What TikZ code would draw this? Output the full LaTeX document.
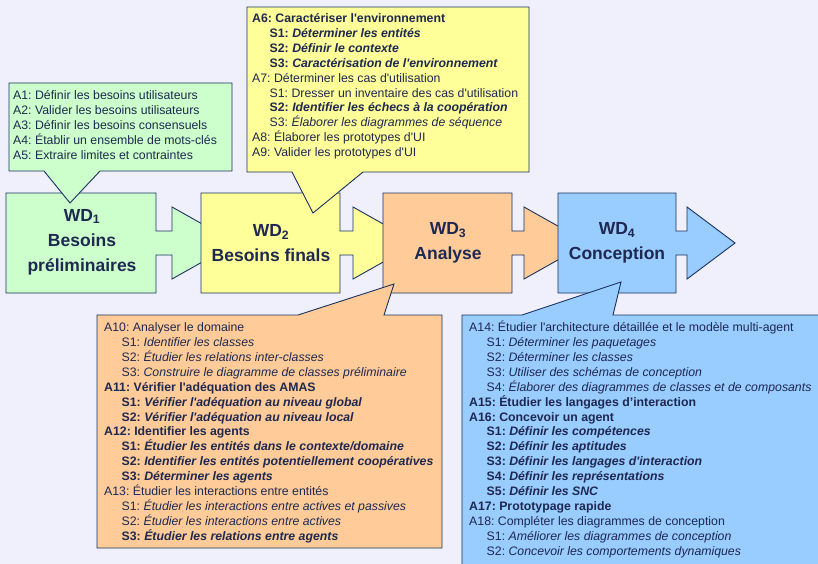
\documentclass[tikz,border=0pt]{standalone}
\usepackage{fontspec}
\setmainfont{Liberation Sans}[Ligatures=TeXOff]
\usepackage{tikz}
\usetikzlibrary{positioning, calc}
\definecolor{bgcol}{RGB}{240,240,252}
\definecolor{linecol}{RGB}{25,50,95}
\definecolor{txtcol}{RGB}{30,40,80}
\definecolor{wdgreen}{RGB}{204,255,204}
\definecolor{wdyellow}{RGB}{255,255,153}
\definecolor{wdorange}{RGB}{255,204,153}
\definecolor{wdblue}{RGB}{153,204,255}
\newcommand{\subind}{\hspace*{17.5pt}}
\newcommand{\firstln}{\rule{0pt}{12pt}}
\frenchspacing
\tikzset{>=latex}

\begin{document}
\begin{tikzpicture}[x=1pt,y=-1pt,line join=miter,
    wdshape/.style={draw=linecol,line width=0.9pt},
    wdlabel/.style={font=\fontsize{17.5}{25}\selectfont\bfseries,text=txtcol,align=center,inner sep=0},
    notetext/.style={font=\fontsize{12.3}{14.9}\selectfont,text=txtcol,align=left,anchor=north west,inner sep=0}]
    \useasboundingbox[fill=bgcol] (0,0) rectangle (818,564);

    % work definitions, arrow heads go under the next box
    \filldraw[wdshape,fill=wdgreen] (6,193) -- (156,193) -- (156,231) -- (172,231) -- (172,207) -- (236,243) -- (172,279) -- (172,255) -- (156,255) -- (156,293) -- (6,293) -- cycle;
    \filldraw[wdshape,fill=wdyellow] (201,193) -- (340,193) -- (340,231) -- (353,231) -- (353,207) -- (417,243) -- (353,279) -- (353,255) -- (340,255) -- (340,293) -- (201,293) -- cycle;
    \filldraw[wdshape,fill=wdorange] (383,193) -- (512,193) -- (512,231) -- (524,231) -- (524,207) -- (588,243) -- (524,279) -- (524,255) -- (512,255) -- (512,293) -- (383,293) -- cycle;
    \filldraw[wdshape,fill=wdblue] (558,193) -- (676,193) -- (676,231) -- (687,231) -- (687,207) -- (735,243) -- (687,279) -- (687,255) -- (676,255) -- (676,293) -- (558,293) -- cycle;
    \node[wdlabel] (wd1) at (82,242) {WD\textsubscript{1}\\Besoins\\préliminaires};
    \node[wdlabel] (wd2) at (271,243) {WD\textsubscript{2}\\Besoins finals};
    \node[wdlabel] (wd3) at (448,243) {WD\textsubscript{3}\\Analyse};
    \node[wdlabel] (wd4) at (617,243) {WD\textsubscript{4}\\Conception};

    % activity notes
    \filldraw[wdshape,fill=wdgreen] (9,83) -- (232,83) -- (232,171) -- (100,171) -- (70,203) -- (44,171) -- (9,171) -- cycle;
    \node[notetext] (acts1) at (13,87.4) {\firstln A1: Définir les besoins utilisateurs\\
        A2: Valider les besoins utilisateurs\\
        A3: Définir les besoins consensuels\\
        A4: Établir un ensemble de mots-clés\\
        A5: Extraire limites et contraintes};

    \filldraw[wdshape,fill=wdyellow] (247,7) -- (529,7) -- (529,172) -- (363,172) -- (313,213) -- (292,172) -- (247,172) -- cycle;
    \node[notetext] (acts2) at (252,10.4) {\firstln\textbf{A6: Caractériser l'environnement}\\
        \subind\textbf{S1: \textit{Déterminer les entités}}\\
        \subind\textbf{S2: \textit{Définir le contexte}}\\
        \subind\textbf{S3: \textit{Caractérisation de l'environnement}}\\
        A7: Déterminer les cas d'utilisation\\
        \subind S1: Dresser un inventaire des cas d'utilisation\\
        \subind\textbf{S2: \textit{Identifier les échecs à la coopération}}\\
        \subind S3: \textit{Élaborer les diagrammes de séquence}\\
        A8: Élaborer les prototypes d'UI\\
        A9: Valider les prototypes d'UI};

    \filldraw[wdshape,fill=wdorange] (97,315) -- (298,315) -- (394,284) -- (384,315) -- (442,315) -- (442,548) -- (97,548) -- cycle;
    \node[notetext] (acts3) at (104,319.4) {\firstln A10: Analyser le domaine\\
        \subind S1: \textit{Identifier les classes}\\
        \subind S2: \textit{Étudier les relations inter-classes}\\
        \subind S3: \textit{Construire le diagramme de classes préliminaire}\\
        \textbf{A11: Vérifier l'adéquation des AMAS}\\
        \subind\textbf{S1: \textit{Vérifier l'adéquation au niveau global}}\\
        \subind\textbf{S2: \textit{Vérifier l'adéquation au niveau local}}\\
        \textbf{A12: Identifier les agents}\\
        \subind\textbf{S1: \textit{Étudier les entités dans le contexte/domaine}}\\
        \subind\textbf{S2: \textit{Identifier les entités potentiellement coopératives}}\\
        \subind\textbf{S3: \textit{Déterminer les agents}}\\
        A13: Étudier les interactions entre entités\\
        \subind S1: \textit{Étudier les interactions entre actives et passives}\\
        \subind S2: \textit{Étudier les interactions entre actives}\\
        \subind\textbf{S3: \textit{Étudier les relations entre agents}}};

    \filldraw[wdshape,fill=wdblue] (462,315) -- (522,315) -- (621,282) -- (613,315) -- (824,315) -- (824,572) -- (462,572) -- cycle;
    \node[notetext] (acts4) at (469,319.4) {\firstln A14: Étudier l'architecture détaillée et le modèle multi-agent\\
        \subind S1: \textit{Déterminer les paquetages}\\
        \subind S2: \textit{Déterminer les classes}\\
        \subind S3: \textit{Utiliser des schémas de conception}\\
        \subind S4: \textit{Élaborer des diagrammes de classes et de composants}\\
        \textbf{A15: Étudier les langages d’interaction}\\
        \textbf{A16: Concevoir un agent}\\
        \subind\textbf{S1: \textit{Définir les compétences}}\\
        \subind\textbf{S2: \textit{Définir les aptitudes}}\\
        \subind\textbf{S3: \textit{Définir les langages d'interaction}}\\
        \subind\textbf{S4: \textit{Définir les représentations}}\\
        \subind\textbf{S5: \textit{Définir les SNC}}\\
        \textbf{A17: Prototypage rapide}\\
        A18: Compléter les diagrammes de conception\\
        \subind S1: \textit{Améliorer les diagrammes de conception}\\
        \subind S2: \textit{Concevoir les comportements dynamiques}};
\end{tikzpicture}
\end{document}
